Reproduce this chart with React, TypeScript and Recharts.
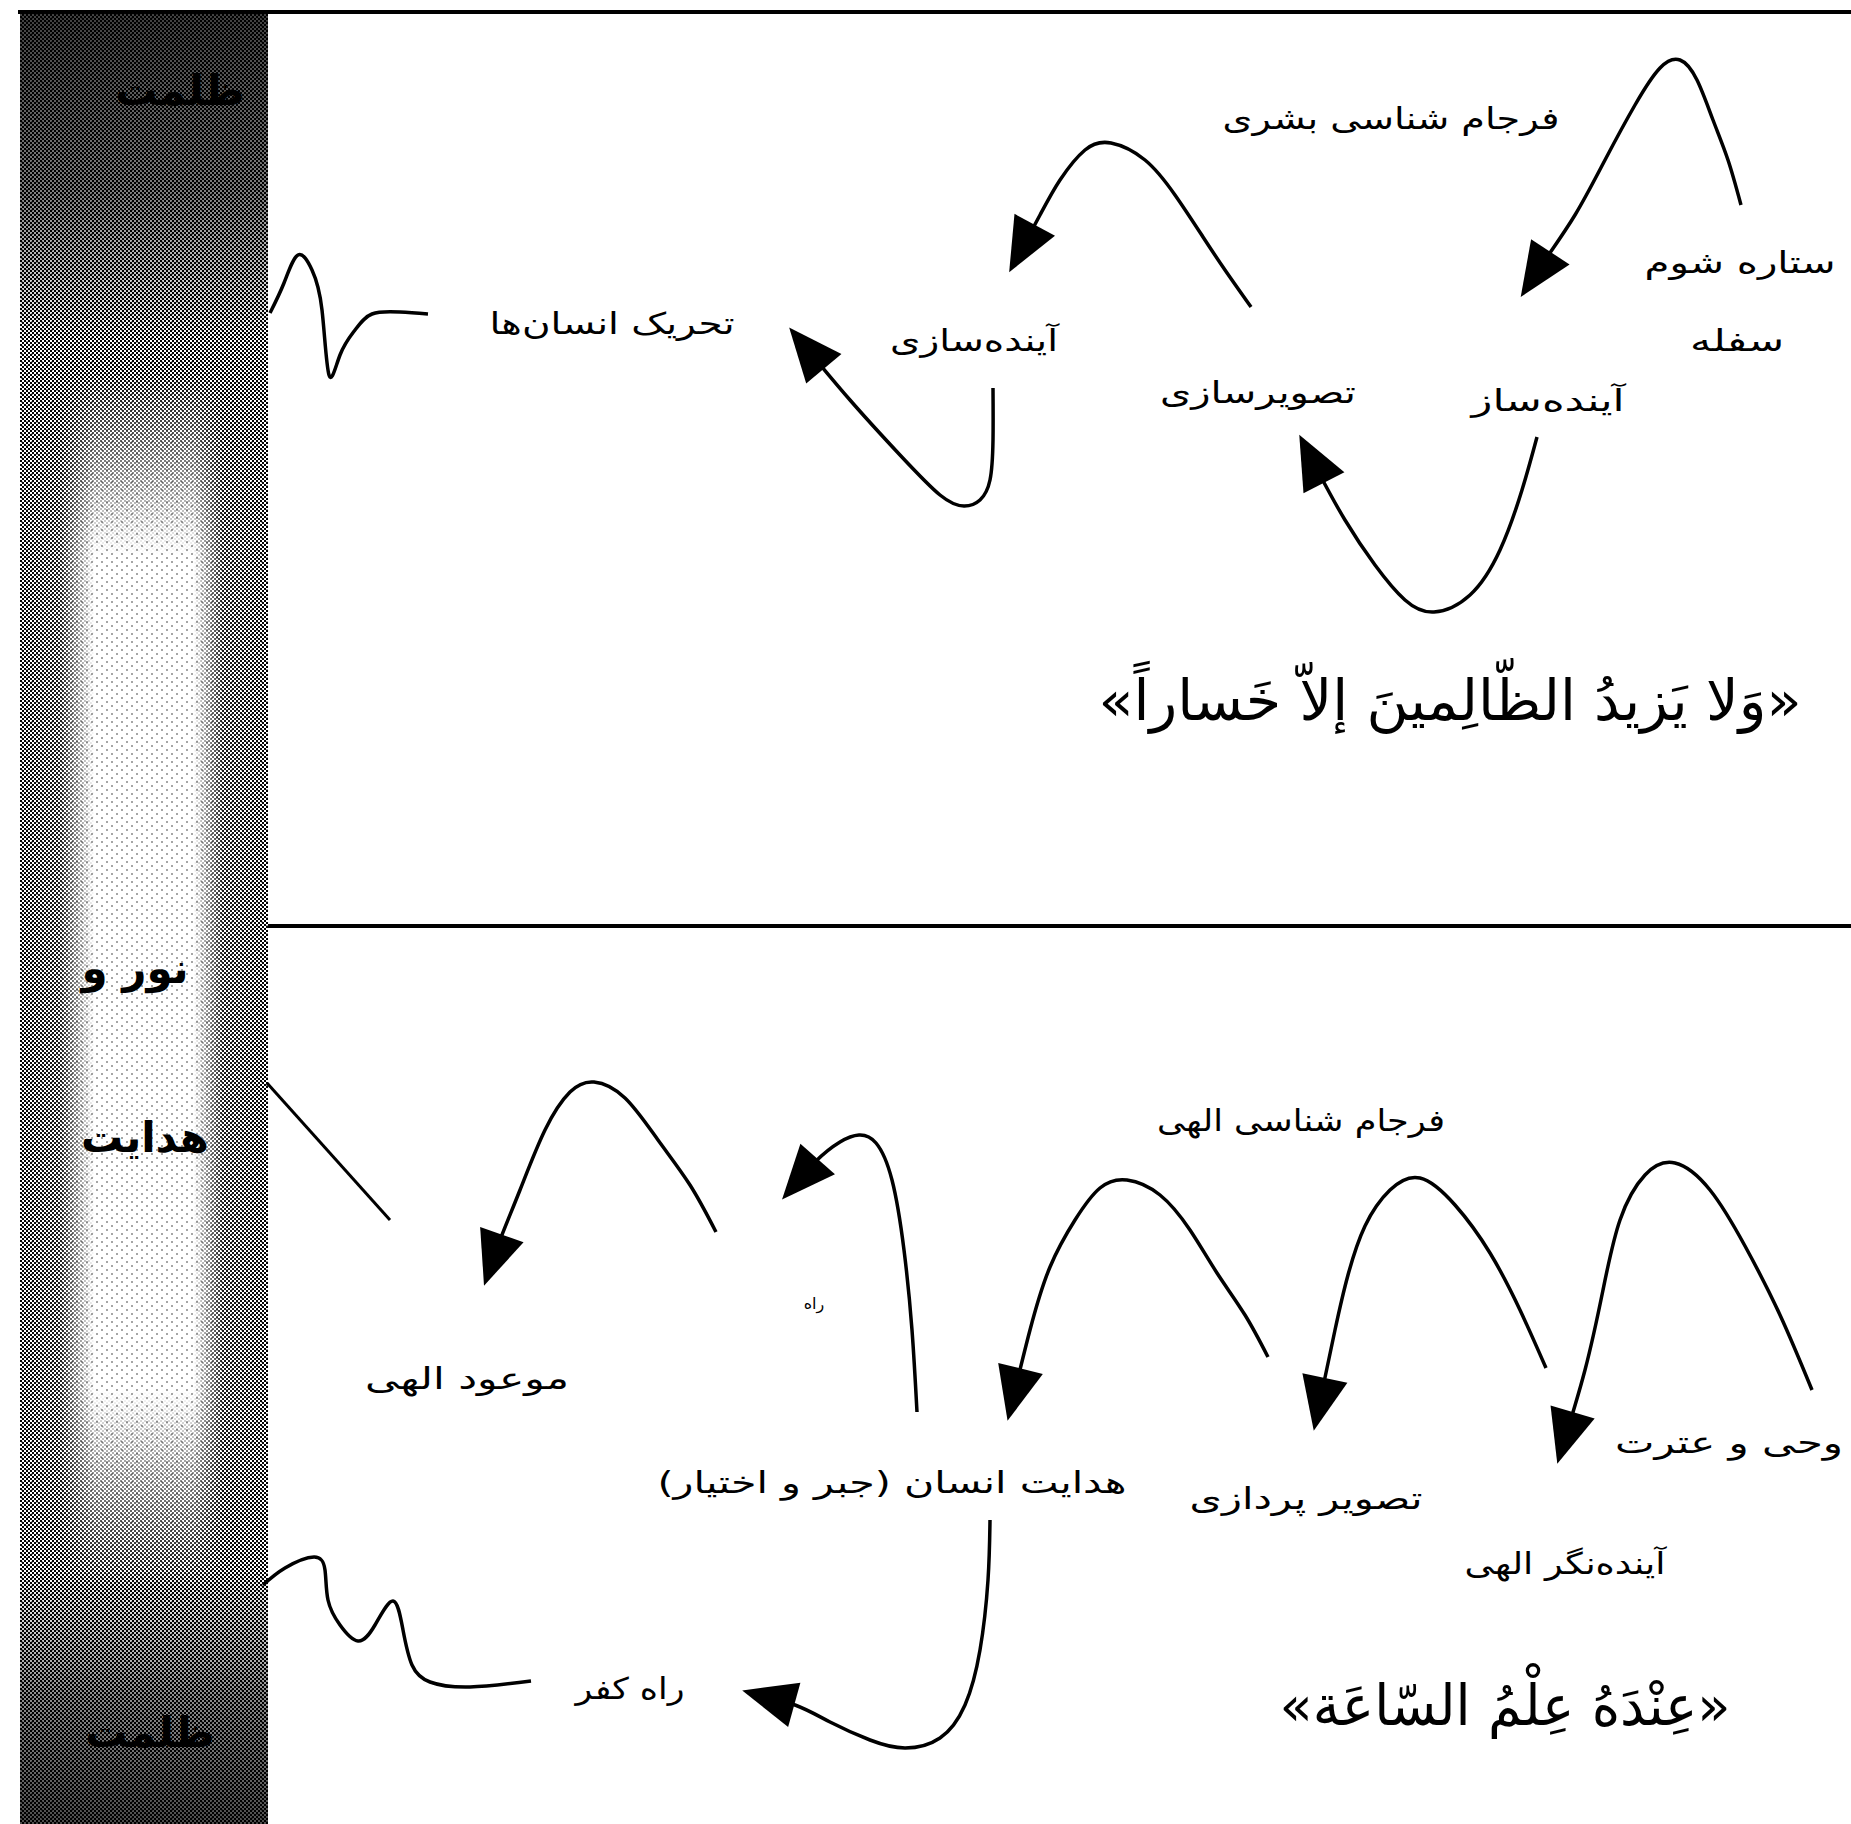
import { ComposedChart, Line, Scatter, XAxis, YAxis, ReferenceArea } from "recharts"

const W = 1851
const H = 1824

// frame rules
const topRule = [{ x: 18, y: 12 }, { x: 1851, y: 12 }]
const midRule = [{ x: 268, y: 926 }, { x: 1851, y: 926 }]

// upper panel
const arcStar = [
  { x: 1741, y: 205 }, { x: 1728, y: 160 }, { x: 1713, y: 120 }, { x: 1697, y: 80 },
  { x: 1680, y: 60 }, { x: 1660, y: 68 }, { x: 1635, y: 105 }, { x: 1605, y: 160 },
  { x: 1575, y: 215 }, { x: 1545, y: 260 }, { x: 1524, y: 292 },
]
const arcHuman = [
  { x: 1251, y: 307 }, { x: 1225, y: 270 }, { x: 1203, y: 237 }, { x: 1175, y: 195 },
  { x: 1145, y: 160 }, { x: 1111, y: 143 }, { x: 1085, y: 150 }, { x: 1060, y: 180 },
  { x: 1040, y: 215 }, { x: 1012, y: 267 },
]
const loopBuilder = [
  { x: 1537, y: 437 }, { x: 1522, y: 490 }, { x: 1500, y: 550 }, { x: 1470, y: 595 },
  { x: 1434, y: 612 }, { x: 1405, y: 600 }, { x: 1375, y: 565 }, { x: 1345, y: 520 },
  { x: 1320, y: 475 }, { x: 1302, y: 440 },
]
const loopFuture = [
  { x: 993, y: 388 }, { x: 993, y: 440 }, { x: 990, y: 480 }, { x: 980, y: 500 },
  { x: 964, y: 506 }, { x: 940, y: 495 }, { x: 900, y: 455 }, { x: 850, y: 400 },
  { x: 793, y: 332 },
]
const waveTop = [
  { x: 270, y: 313 }, { x: 284, y: 283 }, { x: 298, y: 255 }, { x: 312, y: 270 },
  { x: 322, y: 310 }, { x: 329, y: 375 }, { x: 340, y: 355 }, { x: 355, y: 330 },
  { x: 372, y: 314 }, { x: 400, y: 312 }, { x: 428, y: 314 },
]

// lower panel
const rayGuide = [{ x: 267, y: 1083 }, { x: 390, y: 1220 }]
const arcPromised = [
  { x: 716, y: 1232 }, { x: 690, y: 1185 }, { x: 658, y: 1140 }, { x: 625, y: 1098 },
  { x: 594, y: 1082 }, { x: 570, y: 1092 }, { x: 545, y: 1130 }, { x: 520, y: 1190 },
  { x: 500, y: 1240 }, { x: 486, y: 1280 },
]
const arcPath = [
  { x: 917, y: 1412 }, { x: 912, y: 1330 }, { x: 904, y: 1250 }, { x: 892, y: 1180 },
  { x: 876, y: 1143 }, { x: 859, y: 1135 }, { x: 840, y: 1142 }, { x: 815, y: 1162 },
  { x: 786, y: 1195 },
]
const arcGuidance = [
  { x: 1268, y: 1357 }, { x: 1245, y: 1315 }, { x: 1217, y: 1273 }, { x: 1190, y: 1230 },
  { x: 1160, y: 1195 }, { x: 1127, y: 1180 }, { x: 1100, y: 1188 }, { x: 1075, y: 1220 },
  { x: 1050, y: 1267 }, { x: 1030, y: 1330 }, { x: 1009, y: 1415 },
]
const arcPicture = [
  { x: 1546, y: 1368 }, { x: 1520, y: 1310 }, { x: 1490, y: 1253 }, { x: 1455, y: 1205 },
  { x: 1420, y: 1178 }, { x: 1390, y: 1190 }, { x: 1365, y: 1226 }, { x: 1348, y: 1275 },
  { x: 1335, y: 1330 }, { x: 1315, y: 1425 },
]
const arcRevelation = [
  { x: 1812, y: 1390 }, { x: 1780, y: 1315 }, { x: 1745, y: 1246 }, { x: 1710, y: 1190 },
  { x: 1675, y: 1163 }, { x: 1645, y: 1175 }, { x: 1620, y: 1220 }, { x: 1603, y: 1290 },
  { x: 1585, y: 1370 }, { x: 1559, y: 1458 },
]
const loopUnbelief = [
  { x: 990, y: 1520 }, { x: 988, y: 1580 }, { x: 980, y: 1650 }, { x: 965, y: 1705 },
  { x: 940, y: 1738 }, { x: 905, y: 1748 }, { x: 870, y: 1740 }, { x: 830, y: 1722 },
  { x: 795, y: 1705 }, { x: 748, y: 1692 },
]
const waveBottom = [
  { x: 263, y: 1585 }, { x: 285, y: 1568 }, { x: 314, y: 1557 }, { x: 325, y: 1570 },
  { x: 328, y: 1600 }, { x: 340, y: 1625 }, { x: 358, y: 1641 }, { x: 375, y: 1625 },
  { x: 393, y: 1601 }, { x: 403, y: 1630 }, { x: 412, y: 1665 }, { x: 430, y: 1682 },
  { x: 470, y: 1687 }, { x: 531, y: 1681 },
]

const plainCurves = [waveTop, waveBottom]
const arrowCurves = [
  arcStar, arcHuman, loopBuilder, loopFuture,
  arcPromised, arcPath, arcGuidance, arcPicture, arcRevelation, loopUnbelief,
]

// labels
const captions = [
  { x: 1391, y: 118, text: "فرجام شناسی بشری" },
  { x: 1740, y: 262, text: "ستاره شوم" },
  { x: 1737, y: 340, text: "سفله" },
  { x: 1548, y: 400, text: "آینده\u200cساز" },
  { x: 1258, y: 392, text: "تصویرسازی" },
  { x: 974, y: 340, text: "آینده\u200cسازی" },
  { x: 612, y: 323, text: "تحریک انسان\u200cها" },
  { x: 1301, y: 1120, text: "فرجام شناسی الهی" },
  { x: 1729, y: 1442, text: "وحی و عترت" },
  { x: 1306, y: 1498, text: "تصویر پردازی" },
  { x: 1565, y: 1563, text: "آینده\u200cنگر الهی" },
  { x: 892, y: 1482, text: "هدایت انسان (جبر و اختیار)" },
  { x: 467, y: 1378, text: "موعود الهی" },
  { x: 630, y: 1688, text: "راه کفر" },
]
const smallCaptions = [{ x: 814, y: 1303, text: "راه" }]
const verses = [
  { x: 1450, y: 700, text: "«وَلا یَزیدُ الظّالِمینَ إلاّ خَساراً»" },
  { x: 1505, y: 1705, text: "«عِنْدَهُ عِلْمُ السّاعَة»" },
]
const bandWords = [
  { x: 180, y: 90, text: "ظلمت" },
  { x: 135, y: 968, text: "نور و" },
  { x: 145, y: 1137, text: "هدایت" },
  { x: 150, y: 1732, text: "ظلمت" },
]

// rendered widths of the texts as they stand in the picture
const spanOf: Record<string, number> = {
  "فرجام شناسی بشری": 337,
  "ستاره شوم": 191,
  "سفله": 94,
  "آینده\u200cساز": 153,
  "تصویرسازی": 196,
  "آینده\u200cسازی": 168,
  "تحریک انسان\u200cها": 245,
  "فرجام شناسی الهی": 288,
  "وحی و عترت": 228,
  "تصویر پردازی": 233,
  "آینده\u200cنگر الهی": 201,
  "هدایت انسان (جبر و اختیار)": 469,
  "موعود الهی": 204,
  "راه کفر": 109,
  "«وَلا یَزیدُ الظّالِمینَ إلاّ خَساراً»": 703,
  "«عِنْدَهُ عِلْمُ السّاعَة»": 451,
}

const arabic = '"DejaVu Sans", sans-serif'

const arrowTips = arrowCurves.map((c) => {
  const a = c[c.length - 1]
  const b = c[c.length - 2]
  return { x: a.x, y: a.y, angle: (Math.atan2(a.y - b.y, a.x - b.x) * 180) / Math.PI }
})

function ArrowHead(props: any) {
  const { cx, cy, payload } = props
  return (
    <polygon
      points="6,0 -48,-23 -48,23"
      transform={`translate(${cx},${cy}) rotate(${payload.angle})`}
      fill="#000"
    />
  )
}

const textMark = (size: number, weight: string | number) =>
  function TextMark(props: any) {
    const { cx, cy, payload } = props
    const span = spanOf[payload.text]
    return (
      <text
        x={cx}
        y={cy}
        textAnchor="middle"
        dominantBaseline="central"
        direction="rtl"
        fontFamily={arabic}
        fontSize={size}
        fontWeight={weight}
        fill="#000"
        textLength={span}
        lengthAdjust={span ? "spacingAndGlyphs" : undefined}
      >
        {payload.text}
      </text>
    )
  }

function Band(props: any) {
  const { x, y, width, height } = props
  return (
    <g>
      <defs>
        <pattern id="checker" width="4" height="4" patternUnits="userSpaceOnUse">
          <rect width="2" height="2" fill="#000" />
          <rect x="2" y="2" width="2" height="2" fill="#000" />
        </pattern>
        <pattern id="sparse" width="10" height="8" patternUnits="userSpaceOnUse">
          <rect x="1" y="1" width="2" height="2" fill="#000" />
          <rect x="6" y="5" width="2" height="2" fill="#000" />
        </pattern>
        <linearGradient id="edgeFade" x1="0" x2="1" y1="0" y2="0">
          <stop offset="0" stopColor="#fff" stopOpacity="1" />
          <stop offset="0.16" stopColor="#fff" stopOpacity="0.9" />
          <stop offset="0.3" stopColor="#fff" stopOpacity="0" />
          <stop offset="0.7" stopColor="#fff" stopOpacity="0" />
          <stop offset="0.82" stopColor="#fff" stopOpacity="0.9" />
          <stop offset="1" stopColor="#fff" stopOpacity="1" />
        </linearGradient>
        <linearGradient id="endFade" x1="0" x2="0" y1="0" y2="1">
          <stop offset="0" stopColor="#fff" stopOpacity="1" />
          <stop offset="0.2" stopColor="#fff" stopOpacity="1" />
          <stop offset="0.3" stopColor="#fff" stopOpacity="0" />
          <stop offset="0.76" stopColor="#fff" stopOpacity="0" />
          <stop offset="0.87" stopColor="#fff" stopOpacity="1" />
          <stop offset="1" stopColor="#fff" stopOpacity="1" />
        </linearGradient>
        <linearGradient id="endDark" x1="0" x2="0" y1="0" y2="1">
          <stop offset="0" stopColor="#fff" stopOpacity="0.75" />
          <stop offset="0.1" stopColor="#fff" stopOpacity="0.5" />
          <stop offset="0.18" stopColor="#fff" stopOpacity="0" />
          <stop offset="0.86" stopColor="#fff" stopOpacity="0" />
          <stop offset="0.93" stopColor="#fff" stopOpacity="0.45" />
          <stop offset="1" stopColor="#fff" stopOpacity="0.7" />
        </linearGradient>
        <mask id="bandMask" maskUnits="userSpaceOnUse" x={x} y={y} width={width} height={height}>
          <rect x={x} y={y} width={width} height={height} fill="url(#edgeFade)" />
          <rect x={x} y={y} width={width} height={height} fill="url(#endFade)" />
        </mask>
        <mask id="darkMask" maskUnits="userSpaceOnUse" x={x} y={y} width={width} height={height}>
          <rect x={x} y={y} width={width} height={height} fill="url(#endDark)" />
        </mask>
      </defs>
      <rect x={x} y={y} width={width} height={height} fill="#fff" />
      <rect x={x} y={y} width={width} height={height} fill="url(#sparse)" opacity={0.35} />
      <rect x={x} y={y} width={width} height={height} fill="url(#checker)" mask="url(#bandMask)" />
      <rect x={x} y={y} width={width} height={height} fill="#000" mask="url(#darkMask)" />
    </g>
  )
}

export default function App() {
  return (
    <div style={{ width: W, height: H, background: "#fff" }}>
      <style>{"body{margin:0;background:#fff}"}</style>
      <ComposedChart width={W} height={H} margin={{ top: 0, right: 0, bottom: 0, left: 0 }}>
        <XAxis type="number" dataKey="x" domain={[0, W]} hide allowDataOverflow />
        <YAxis type="number" dataKey="y" domain={[0, H]} reversed hide allowDataOverflow />
        <ReferenceArea x1={20} x2={268} y1={12} y2={H} shape={Band} ifOverflow="visible" />
        {[topRule, midRule, rayGuide].map((d, i) => (
          <Line
            key={`rule-${i}`}
            data={d}
            dataKey="y"
            type="linear"
            stroke="#000"
            strokeWidth={i === 2 ? 3 : 4}
            dot={false}
            activeDot={false}
            isAnimationActive={false}
          />
        ))}
        {[...plainCurves, ...arrowCurves].map((d, i) => (
          <Line
            key={`curve-${i}`}
            data={d}
            dataKey="y"
            type="natural"
            stroke="#000"
            strokeWidth={3.5}
            dot={false}
            activeDot={false}
            isAnimationActive={false}
          />
        ))}
        <Scatter data={arrowTips} shape={ArrowHead} isAnimationActive={false} />
        <Scatter data={bandWords} shape={textMark(42, 700)} isAnimationActive={false} />
        <Scatter data={captions} shape={textMark(30, 400)} isAnimationActive={false} />
        <Scatter data={smallCaptions} shape={textMark(16, 400)} isAnimationActive={false} />
        <Scatter data={verses} shape={textMark(56, 400)} isAnimationActive={false} />
      </ComposedChart>
    </div>
  )
}
